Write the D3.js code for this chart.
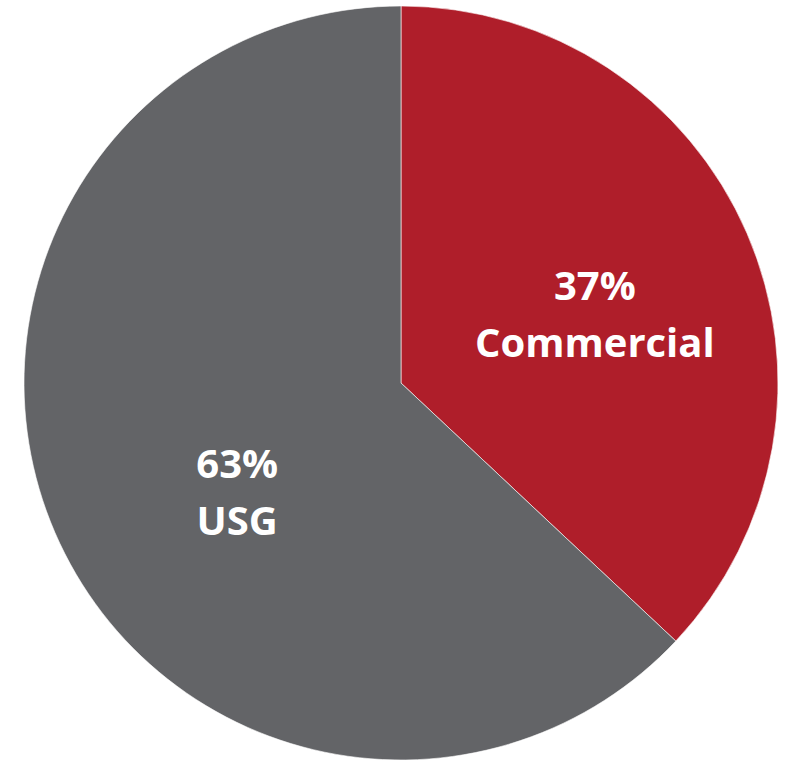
<!DOCTYPE html>
<html>
<head>
<meta charset="utf-8">
<script src="https://cdn.jsdelivr.net/npm/d3@7"></script>
<style>
  html, body { margin: 0; padding: 0; background: #fff; }
  svg { display: block; }
</style>
</head>
<body>
<script>
// chart data
var segments = ["Commercial", "USG"];
var shares = [37, 63];
var sliceColors = ["#af1e2a", "#636467"];

var width = 792, height = 760,
	cx = 401, cy = 383, radius = 377;

var svg = d3.select("body").append("svg")
	.attr("width", width)
	.attr("height", height);

var g = svg.append("g")
	.attr("transform", "translate(" + cx + "," + cy + ")");

var pie = d3.pie().sort(null).value(function(d) { return d; });
var arcs = pie(shares);

var arc = d3.arc().innerRadius(0).outerRadius(radius);

g.selectAll("path.slice")
	.data(arcs)
	.enter().append("path")
	.attr("class", "slice")
	.attr("d", arc)
	.attr("fill", function(d, i) { return sliceColors[i]; })
	.attr("stroke", "#fff")
	.attr("stroke-width", 0.6);

// label spot: a little off the mid angle, like the original layout
var labelR = [206, 196],
	labelShift = [3.6, -9.9]; // degrees

var labels = g.selectAll("g.lbl")
	.data(arcs)
	.enter().append("g")
	.attr("class", "lbl")
	.attr("transform", function(d, i) {
		var a = (d.startAngle + d.endAngle) / 2 + labelShift[i] * Math.PI / 180;
		return "translate(" + (labelR[i] * Math.sin(a)) + "," + (-labelR[i] * Math.cos(a)) + ")";
	});

labels.append("text")
	.attr("text-anchor", "middle")
	.attr("y", -13)
	.style("font-family", "'Open Sans', sans-serif")
	.style("font-weight", "bold")
	.style("font-size", "40px")
	.attr("fill", "#fff")
	.text(function(d, i) { return shares[i] + "%"; });

labels.append("text")
	.attr("text-anchor", "middle")
	.attr("y", 44)
	.style("font-family", "'Open Sans', sans-serif")
	.style("font-weight", "bold")
	.style("font-size", "40px")
	.attr("fill", "#fff")
	.text(function(d, i) { return segments[i]; });
</script>
</body>
</html>
